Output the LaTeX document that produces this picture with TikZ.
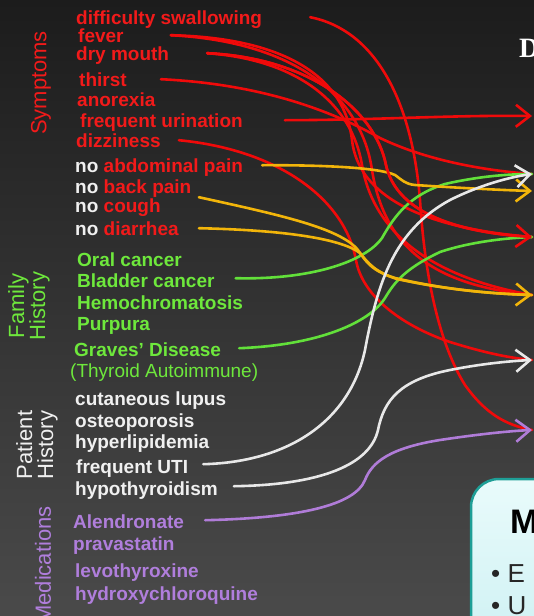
\documentclass[tikz,border=0pt]{standalone}
\usepackage{fontspec}
\setmainfont{Liberation Sans}
\newfontfamily\serifD{Liberation Serif}
\usetikzlibrary{arrows.meta}
\definecolor{bgtop}{HTML}{1C1C1C}
\definecolor{bgbot}{HTML}{4A4A4A}
\definecolor{tred}{HTML}{F21A1A}
\definecolor{tgreen}{HTML}{6EE83C}
\definecolor{twhite}{HTML}{F0F0F0}
\definecolor{tpurple}{HTML}{B07EDC}
\definecolor{lred}{HTML}{F00A0A}
\definecolor{lyellow}{HTML}{F2B50A}
\definecolor{lgreen}{HTML}{62E03A}
\definecolor{lwhite}{HTML}{E8E8E8}
\definecolor{lpurple}{HTML}{B07CD8}
\definecolor{boxedge}{HTML}{1E9E96}
\definecolor{boxtop}{HTML}{E9FBFB}
\definecolor{boxbot}{HTML}{C6EEF1}
\tikzset{
  lab/.style={font=\fontsize{19}{19}\selectfont\bfseries, inner sep=0pt, anchor=base west, text height=13.6pt, text depth=0pt},
  labreg/.style={lab, font=\fontsize{19}{19}\selectfont},
  side/.style={font=\fontsize{22}{21}\selectfont, rotate=90, inner sep=0pt, align=center},
  conn/.style={line width=2.6pt, line cap=round},
  redc/.style={conn, draw=lred},
  yelc/.style={conn, draw=lyellow},
  grnc/.style={conn, draw=lgreen},
  whtc/.style={conn, draw=lwhite},
  purc/.style={conn, draw=lpurple},
  tip/.style={-{Straight Barb[length=14pt,width=22pt]}},
}
\begin{document}
\begin{tikzpicture}[x=1pt,y=-1pt]
\useasboundingbox (0,0) rectangle (534,616);
\clip (0,0) rectangle (534,616);
\shade[top color=bgtop,bottom color=bgbot] (0,0) rectangle (534,616);

% arrow tip targets
\coordinate (t116) at (532,116);
\coordinate (t174) at (532,174);
\coordinate (t191) at (532,191);
\coordinate (t237) at (532,237);
\coordinate (t295) at (532,295);
\coordinate (t360) at (532,360);
\coordinate (t430) at (532,430);

% side labels
\node[side, text=tred] (sym) at (41,83) {Symptoms};
\node[side, text=tgreen] (fam) at (29,306) {Family\\History};
\node[side, text=twhite] (pat) at (37,445) {Patient\\History};
\node[side, text=tpurple] (med) at (43,565) {Medications};

% symptom labels
\node[lab, text=tred] (swallow) at (76,24) {difficulty swallowing};
\node[lab, text=tred] (fever) at (78,42) {fever};
\node[lab, text=tred] (dry) at (76,60) {dry mouth};
\node[lab, text=tred] (thirst) at (79,86) {thirst};
\node[lab, text=tred] (anor) at (77,106) {anorexia};
\node[lab, text=tred] (urin) at (80,127) {frequent urination};
\node[lab, text=tred] (dizz) at (76,147) {dizziness};
\node[lab, text=tred] (abd) at (75,172) {\textcolor{twhite}{no} abdominal pain};
\node[lab, text=tred] (back) at (75,193) {\textcolor{twhite}{no} back pain};
\node[lab, text=tred] (cough) at (75,212) {\textcolor{twhite}{no} cough};
\node[lab, text=tred] (diar) at (75,235) {\textcolor{twhite}{no} diarrhea};

% family history
\node[lab, text=tgreen] (oral) at (77,266) {Oral cancer};
\node[lab, text=tgreen] (bladder) at (77,287) {Bladder cancer};
\node[lab, text=tgreen] (hemo) at (77,309) {Hemochromatosis};
\node[lab, text=tgreen] (purp) at (77,330) {Purpura};
\node[lab, text=tgreen] (graves) at (74,356) {Graves’ Disease};
\node[labreg, text=tgreen] (thy) at (70,377) {(Thyroid Autoimmune)};

% patient history
\node[lab, text=twhite] (lupus) at (75,405) {cutaneous lupus};
\node[lab, text=twhite] (osteo) at (75,427) {osteoporosis};
\node[lab, text=twhite] (hyper) at (75,448) {hyperlipidemia};
\node[lab, text=twhite] (uti) at (76,473) {frequent UTI};
\node[lab, text=twhite] (hypo) at (75,495) {hypothyroidism};

% medications
\node[lab, text=tpurple] (alen) at (73,528) {Alendronate};
\node[lab, text=tpurple] (prav) at (73,550) {pravastatin};
\node[lab, text=tpurple] (levo) at (75,577) {levothyroxine};
\node[lab, text=tpurple] (hcq) at (75,600) {hydroxychloroquine};

% right side fragments
\node[font=\serifD\bfseries\fontsize{28}{28}\selectfont, text=white, anchor=base west, inner sep=0pt] (dtitle) at (519,57) {D};
\draw[draw=boxedge, line width=2.5pt, top color=boxtop, bottom color=boxbot, rounded corners=28pt] (471,479) rectangle (640,700);
\node[font=\bfseries\fontsize{34}{34}\selectfont, text=black, anchor=base west, inner sep=0pt] (mtitle) at (510,533) {M};
\node[font=\fontsize{26}{26}\selectfont, text=black!85, anchor=base west, inner sep=0pt] (b1) at (491,582) {• E};
\node[font=\fontsize{26}{26}\selectfont, text=black!85, anchor=base west, inner sep=0pt] (b2) at (491,614) {• U};

% ---- red connectors without heads
\draw[redc] ([xshift=47pt]fever.east) .. controls (290,38) and (345,80) .. (352,140) .. controls (358,195) and (420,228) .. (t237);
\draw[redc] ([xshift=47pt]fever.east) .. controls (300,42) and (362,100) .. (372,170) .. controls (384,245) and (430,285) .. (t295);
\draw[redc] ([xshift=38pt]dry.east) .. controls (300,60) and (352,105) .. (362,165) .. controls (372,225) and (420,275) .. (t295);
\draw[redc] ([xshift=38pt]dry.east) .. controls (310,58) and (375,110) .. (386,165) .. controls (396,210) and (450,232) .. (t237);
\draw[redc] ([xshift=34pt]thirst.east) .. controls (260,84) and (330,110) .. (380,138) .. controls (430,162) and (490,171) .. (t174);
\draw[redc] ([xshift=18pt]dizz.east) .. controls (280,150) and (345,200) .. (356,260) .. controls (362,295) and (400,325) .. (450,342) .. controls (485,353) and (510,358) .. (t360);
\draw[redc] ([xshift=48pt]swallow.east) .. controls (375,30) and (412,100) .. (420,200) .. controls (425,280) and (440,345) .. (465,385) .. controls (485,413) and (505,425) .. (t430);

% ---- green connectors (merge into tips)
\draw[grnc] ([shift={(21pt,2pt)}]bladder.east) .. controls (310,280) and (365,262) .. (382,238) .. controls (395,215) and (410,195) .. (445,184) .. controls (480,176) and (510,174) .. (t174);
\draw[grnc] ([shift={(18pt,1pt)}]graves.east) .. controls (320,345) and (370,322) .. (385,298) .. controls (393,285) and (402,270) .. (440,252) .. controls (470,242) and (505,238) .. (t237);

% ---- yellow connectors
\draw[yelc] ([shift={(38pt,8pt)}]cough.east) .. controls (280,215) and (340,228) .. (358,250) .. controls (366,262) and (372,271) .. (395,278) .. controls (450,291) and (500,294) .. (t295);
\draw[yelc, tip] ([shift={(20pt,0pt)}]diar.east) .. controls (280,230) and (340,238) .. (360,253) .. controls (368,263) and (375,272) .. (397,279) .. controls (452,291) and (500,294) .. (t295);
\draw[yelc, tip] ([xshift=19pt]abd.east) .. controls (330,165) and (380,168) .. (395,175) .. controls (402,180) and (405,184) .. (415,185) .. controls (460,188) and (500,190) .. (t191);

% ---- headed arrows
\draw[redc, tip] ([xshift=42pt]urin.east) .. controls (380,120) and (450,115) .. (t116);
\draw[redc, tip] ([xshift=38pt]dry.east) .. controls (310,58) and (375,110) .. (386,165) .. controls (396,210) and (450,232) .. (t237);
\draw[whtc, tip] ([shift={(15pt,2pt)}]uti.east) .. controls (290,462) and (350,420) .. (365,350) .. controls (378,280) and (395,230) .. (450,200) .. controls (480,185) and (510,177) .. (t174);
\draw[whtc, tip] ([shift={(16pt,2pt)}]hypo.east) .. controls (320,485) and (370,465) .. (378,430) .. controls (384,400) and (400,380) .. (450,370) .. controls (480,364) and (510,361) .. (t360);
\draw[purc, tip] ([shift={(21pt,1pt)}]alen.east) .. controls (300,518) and (355,505) .. (365,480) .. controls (372,462) and (390,448) .. (440,440) .. controls (480,434) and (510,431) .. (t430);
\end{tikzpicture}
\end{document}
